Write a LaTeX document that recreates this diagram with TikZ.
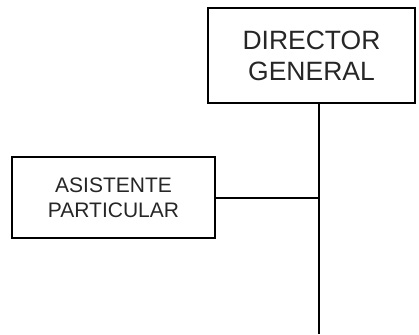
\documentclass[tikz,border=0pt]{standalone}
\usepackage{fontspec}
\setmainfont{Liberation Sans}
\begin{document}
\begin{tikzpicture}[x=1pt,y=-1pt,
  orgbox/.style={draw=black, line width=2pt, inner sep=0pt, align=center, text=black!85},
  link/.style={draw=black, line width=2pt}]
\useasboundingbox (0,0) rectangle (419,334);
\node[orgbox, minimum width=207pt, minimum height=95pt,
      font=\fontsize{26.5}{31}\selectfont] (dir) at (311.5,55.5) {DIRECTOR\\GENERAL};
\node[orgbox, minimum width=203pt, minimum height=81pt,
      font=\fontsize{21}{25}\selectfont] (asis) at (113.5,197.5) {ASISTENTE\\PARTICULAR};
\coordinate (bot) at (319,334);
\draw[link] (dir.south -| bot) -- (bot);
\draw[link] (asis.east) -- (asis.east -| bot);
\end{tikzpicture}
\end{document}
